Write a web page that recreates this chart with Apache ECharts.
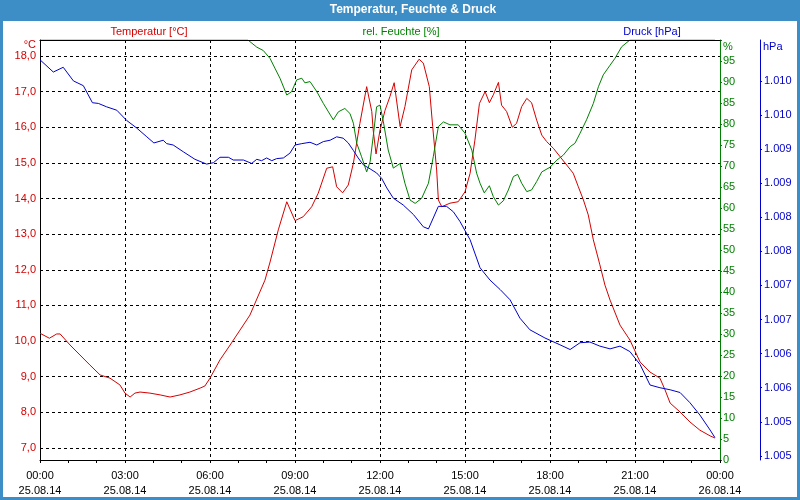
<!DOCTYPE html>
<html><head><meta charset="utf-8">
<script src="https://cdn.jsdelivr.net/npm/echarts@6/dist/echarts.min.js"></script>
<style>
html,body{margin:0;padding:0;background:#3d8ec6;}
#frame{position:absolute;left:0;top:0;width:800px;height:500px;background:#3d8ec6;}
#inner{position:absolute;left:3px;top:21px;width:794px;height:476px;background:#fff;}
#chart{position:absolute;left:0;top:0;width:800px;height:500px;}
</style></head><body>
<div id="frame"><div id="inner"></div></div>
<div id="chart"></div>
<script>
const xTickLabels = ['00:00\n25.08.14','03:00\n25.08.14','06:00\n25.08.14','09:00\n25.08.14','12:00\n25.08.14','15:00\n25.08.14','18:00\n25.08.14','21:00\n25.08.14','00:00\n26.08.14'];
const tempTicks = [7,8,9,10,11,12,13,14,15,16,17,18];
const pressTicks = [1004.5,1005,1005.5,1006,1006.5,1007,1007.5,1008,1008.5,1009,1009.5,1010];

const tempHours = [0,0.33,0.59,0.71,1.06,1.41,1.76,2.12,2.47,2.82,3.0,3.18,3.35,3.53,3.88,4.24,4.59,4.94,5.29,5.65,5.82,6.0,6.35,6.71,7.06,7.41,7.76,7.94,8.12,8.41,8.71,9.0,9.29,9.59,9.82,10.12,10.33,10.47,10.68,10.88,11.06,11.29,11.53,11.71,11.76,11.86,12.0,12.18,12.35,12.5,12.71,12.88,13.12,13.38,13.53,13.74,13.86,14.0,14.06,14.18,14.47,14.76,15.0,15.18,15.35,15.51,15.71,15.86,16.0,16.18,16.29,16.47,16.67,16.82,17.0,17.18,17.35,17.53,17.71,17.88,18.12,18.35,18.59,18.82,19.0,19.18,19.35,19.53,19.76,19.94,20.12,20.47,20.82,21.18,21.53,21.88,22.06,22.24,22.59,22.94,23.29,23.65,23.82];
const tempValues = [10.22,10.08,10.20,10.20,9.89,9.61,9.33,9.05,8.96,8.77,8.54,8.43,8.54,8.57,8.54,8.49,8.43,8.49,8.57,8.68,8.74,8.96,9.47,9.89,10.31,10.73,11.38,11.71,12.22,13.12,13.91,13.38,13.49,13.77,14.15,14.85,14.89,14.33,14.16,14.38,14.99,16.11,17.14,16.44,15.92,15.25,15.92,16.48,16.86,17.25,16.02,16.58,17.61,17.91,17.80,17.14,16.02,14.80,13.96,13.77,13.87,13.91,14.19,14.71,15.64,16.67,17.0,16.69,16.91,17.26,16.62,16.44,16.0,16.11,16.58,16.81,16.69,16.20,15.78,15.60,15.41,15.18,14.94,14.71,14.33,13.96,13.54,12.84,12.14,11.57,11.15,10.45,10.03,9.41,9.13,8.96,8.63,8.26,8.01,7.73,7.5,7.34,7.28];

const humHours = [0,7.34,7.41,7.65,7.88,8.12,8.29,8.47,8.71,8.88,9.06,9.24,9.35,9.53,9.77,10.0,10.35,10.53,10.76,10.94,11.06,11.18,11.35,11.53,11.65,11.76,11.88,12.0,12.12,12.29,12.47,12.71,12.88,13.06,13.24,13.47,13.71,13.88,14.06,14.24,14.47,14.76,15.0,15.24,15.41,15.53,15.68,15.86,16.0,16.18,16.35,16.53,16.71,16.86,17.0,17.18,17.35,17.53,17.71,18.0,18.24,18.47,18.71,18.88,19.06,19.29,19.53,19.71,19.88,20.12,20.29,20.53,20.82,23.82];
const humValues = [100,100,99.8,98.3,97.5,95.6,93.3,90.9,86.9,87.7,90.5,90.9,89.8,90.1,87.7,84.9,81.0,82.9,83.7,82.5,80.2,75.4,72.2,68.6,71.0,77.0,84.1,84.5,80.5,73.8,69.5,70.6,65.9,61.9,61.1,62.3,65.9,72.2,79.4,80.5,79.8,79.8,77.8,73.8,68.3,65.9,63.6,65.3,62.7,60.7,61.7,64.3,67.5,68.0,65.9,63.9,64.3,66.3,68.6,69.7,71.4,72.6,74.6,75.4,77.8,81.0,84.9,88.9,91.7,94.0,95.6,98.4,100,100];

const pressHours = [0,0.47,0.82,1.18,1.53,1.85,2.06,2.35,2.71,3.06,3.41,3.77,4.02,4.35,4.47,4.70,5.06,5.47,5.88,6.12,6.35,6.65,6.82,7.18,7.47,7.65,7.82,8.0,8.18,8.35,8.59,8.82,9.0,9.24,9.53,9.77,10.0,10.24,10.47,10.7,10.88,11.06,11.23,11.41,11.65,11.88,12.06,12.24,12.47,12.82,13.18,13.53,13.71,13.88,14.06,14.35,14.59,14.82,15.18,15.53,15.88,16.24,16.59,16.94,17.29,17.82,18.35,18.71,19.06,19.41,19.76,20.12,20.47,20.82,21.18,21.53,21.88,22.24,22.59,22.94,23.29,23.65,23.82];
const pressValues = [1010.31,1010.13,1010.20,1010.00,1009.93,1009.68,1009.67,1009.62,1009.57,1009.42,1009.31,1009.18,1009.09,1009.13,1009.08,1009.06,1008.96,1008.85,1008.78,1008.80,1008.88,1008.88,1008.84,1008.84,1008.79,1008.85,1008.83,1008.87,1008.83,1008.86,1008.87,1008.94,1009.06,1009.08,1009.10,1009.06,1009.11,1009.13,1009.18,1009.16,1009.09,1008.98,1008.87,1008.77,1008.71,1008.65,1008.57,1008.43,1008.28,1008.18,1008.04,1007.86,1007.83,1007.99,1008.16,1008.16,1008.08,1007.94,1007.67,1007.26,1007.08,1006.94,1006.79,1006.52,1006.35,1006.23,1006.13,1006.06,1006.16,1006.17,1006.11,1006.07,1006.11,1006.03,1005.84,1005.54,1005.50,1005.47,1005.43,1005.28,1005.10,1004.88,1004.77];

const FONT = 'Liberation Sans';
const RED = '#d40000', GREEN = '#008000', BLUE = '#0000cc';
const zip = (a, b) => a.map((v, i) => [v, b[i]]);

const chart = echarts.init(document.getElementById('chart'), null, {renderer: 'canvas'});
chart.setOption({
  animation: false,
  backgroundColor: 'transparent',
  textStyle: {fontFamily: FONT},
  title: [
    {text: 'Temperatur, Feuchte & Druck', left: 413, top: 4, padding: 0, textAlign: 'center',
     textStyle: {color: '#fff', fontWeight: 'bold', fontSize: 12, fontFamily: FONT}},
    {text: 'Temperatur [°C]', left: 149, top: 26, padding: 0, textAlign: 'center',
     textStyle: {color: RED, fontWeight: 'normal', fontSize: 11, fontFamily: FONT}},
    {text: 'rel. Feuchte [%]', left: 401, top: 26, padding: 0, textAlign: 'center',
     textStyle: {color: GREEN, fontWeight: 'normal', fontSize: 11, fontFamily: FONT}},
    {text: 'Druck [hPa]', left: 652, top: 26, padding: 0, textAlign: 'center',
     textStyle: {color: BLUE, fontWeight: 'normal', fontSize: 11, fontFamily: FONT}}
  ],
  grid: {left: 40, top: 40, width: 680, height: 420, containLabel: false},
  xAxis: [
    {type: 'value', min: 0, max: 24, interval: 3,
     axisLine: {show: true, lineStyle: {color: '#000', width: 1}},
     axisTick: {show: true, length: 3, lineStyle: {color: '#000'}},
     minorTick: {show: true, splitNumber: 3, length: 3, lineStyle: {color: '#000'}},
     axisLabel: {show: true, margin: 8, color: '#000', fontSize: 11, lineHeight: 15, fontFamily: FONT,
       formatter: v => xTickLabels[Math.round(v / 3)]},
     splitLine: {show: true, showMinLine: false, showMaxLine: false, lineStyle: {color: '#000', type: [3, 3], width: 1}}},
    {type: 'value', min: 0, max: 24, position: 'top', z: 5,
     axisLine: {show: true, onZero: false, lineStyle: {color: '#000', width: 1}},
     axisTick: {show: false}, axisLabel: {show: false}, splitLine: {show: false}}
  ],
  yAxis: [
    {type: 'value', position: 'left', min: 6.663, max: 18.449,
     name: '°C', nameLocation: 'end', nameGap: -5,
     nameTextStyle: {color: RED, fontSize: 11, align: 'right', verticalAlign: 'middle', padding: [0, 4, 0, 0], fontFamily: FONT},
     axisLine: {show: true, onZero: false, lineStyle: {color: '#000', width: 1}},
     axisTick: {show: false, customValues: tempTicks},
     axisLabel: {color: RED, fontSize: 11, margin: 4, fontFamily: FONT, customValues: tempTicks,
       formatter: v => v.toFixed(1).replace('.', ',')},
     splitLine: {show: true, lineStyle: {color: '#000', type: [3, 3], width: 1}}},
    {type: 'value', position: 'right', min: 0, max: 100, interval: 5,
     name: '%', nameLocation: 'end', nameGap: -7,
     nameTextStyle: {color: GREEN, fontSize: 11, align: 'left', verticalAlign: 'middle', padding: [0, 0, 0, 3], fontFamily: FONT},
     axisLine: {show: true, onZero: false, lineStyle: {color: GREEN, width: 1}},
     axisTick: {show: true, length: 2, lineStyle: {color: GREEN}},
     axisLabel: {color: GREEN, fontSize: 11, margin: 3, fontFamily: FONT,
       formatter: v => (v >= 100 ? '' : String(v))},
     splitLine: {show: false}},
    {type: 'value', position: 'right', offset: 40, min: 1004.44, max: 1010.60,
     name: 'hPa', nameLocation: 'end', nameGap: -7,
     nameTextStyle: {color: BLUE, fontSize: 11, align: 'left', verticalAlign: 'middle', padding: [0, 0, 0, 3], fontFamily: FONT},
     axisLine: {show: true, onZero: false, lineStyle: {color: BLUE, width: 1}},
     axisTick: {show: true, length: 2, lineStyle: {color: BLUE}, customValues: pressTicks},
     axisLabel: {color: BLUE, fontSize: 11, margin: 4, fontFamily: FONT, customValues: pressTicks,
       formatter: v => (Math.round(v) / 1000).toFixed(3)},
     splitLine: {show: false}}
  ],
  series: [
    {name: 'Temperatur', type: 'line', xAxisIndex: 0, yAxisIndex: 0, data: zip(tempHours, tempValues),
     showSymbol: false, lineStyle: {color: RED, width: 1}, itemStyle: {color: RED}},
    {name: 'rel. Feuchte', type: 'line', xAxisIndex: 0, yAxisIndex: 1, data: zip(humHours, humValues),
     showSymbol: false, lineStyle: {color: GREEN, width: 1}, itemStyle: {color: GREEN}},
    {name: 'Druck', type: 'line', xAxisIndex: 0, yAxisIndex: 2, data: zip(pressHours, pressValues),
     showSymbol: false, lineStyle: {color: BLUE, width: 1}, itemStyle: {color: BLUE}}
  ]
});
</script>
</body></html>
